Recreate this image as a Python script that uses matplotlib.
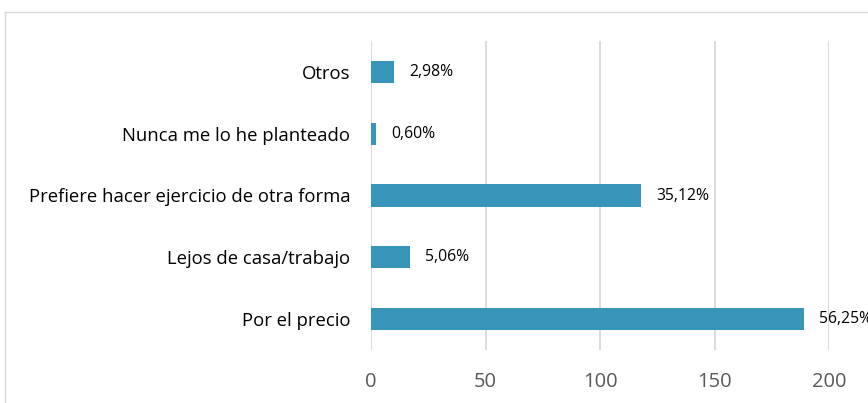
import matplotlib as mpl
mpl.use('agg')
import matplotlib.pyplot as plt
from matplotlib.lines import Line2D

categorias = ['Por el precio', 'Lejos de casa/trabajo',
              'Prefiere hacer ejercicio de otra forma',
              'Nunca me lo he planteado', 'Otros']
valores = [189, 17, 118, 2, 10]
porcentajes = ['56,25%', '5,06%', '35,12%', '0,60%', '2,98%']
ticks_x = [0, 50, 100, 150, 200]

plt.rcParams['font.family'] = ['Open Sans', 'DejaVu Sans']

W, H = 868, 403
fig = plt.figure(figsize=(W / 100, H / 100), dpi=100)
ax = fig.add_axes([371 / W, (H - 350) / H, (829 - 371) / W, (350 - 41) / H])

ypos = range(len(categorias))
ax.barh(ypos, valores, height=0.36, color='#3795BA', zorder=3)
for y, v, p in zip(ypos, valores, porcentajes):
    ax.annotate(p, (v, y), xytext=(11, 0), textcoords='offset points',
                va='center', ha='left', fontsize=11.3, color='#000000')

ax.set_xlim(0, 200)
ax.set_ylim(-0.5, len(categorias) - 0.5)
ax.set_xticks(ticks_x)
ax.set_yticks(list(ypos))
ax.set_yticklabels(categorias, fontsize=13.3, color='#000000')
ax.tick_params(axis='x', labelsize=14.5, colors='#595959', length=0, pad=16)
ax.tick_params(axis='y', length=0, pad=15)
ax.grid(axis='x', color='#D9D9D9', linewidth=1.3, zorder=0)
for s in ax.spines.values():
    s.set_visible(False)

# marco exterior del grafico
fig.add_artist(Line2D([4.5 / W, 4.5 / W], [0, (H - 12) / H], color='#D9D9D9', lw=1))
fig.add_artist(Line2D([4.5 / W, 1], [(H - 12) / H, (H - 12) / H], color='#D9D9D9', lw=1))

plt.savefig('out.png', dpi=100)
